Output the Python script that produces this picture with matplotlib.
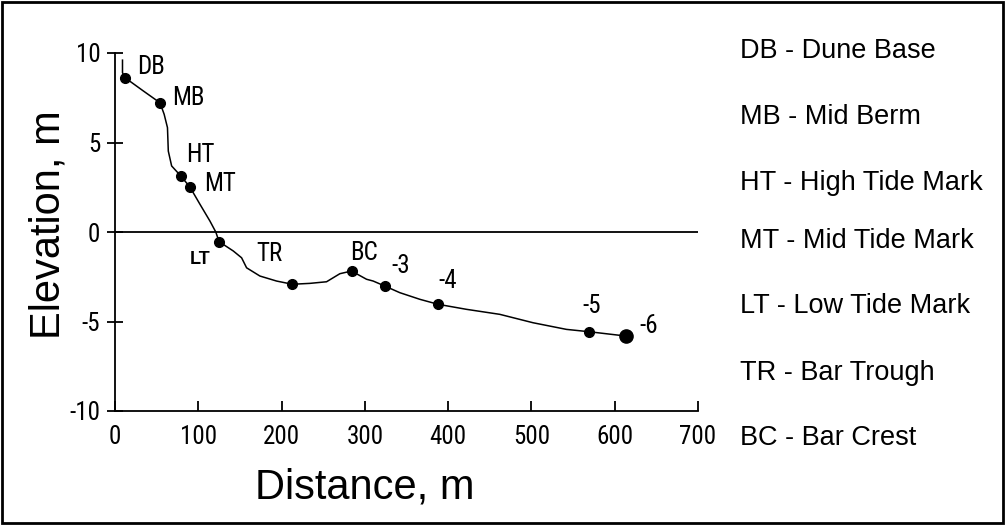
import matplotlib
matplotlib.use("Agg")
import matplotlib.pyplot as plt
from matplotlib import font_manager
from matplotlib.patches import Rectangle

# profile of the beach (distance m, elevation m)
dist = [9, 9, 12, 34, 54, 59, 63, 64, 68, 79, 90, 102, 114, 121, 125,
        142, 152, 158, 174, 194, 213, 234, 254, 270, 284, 302, 310, 324,
        342, 366, 388, 422, 462, 502, 542, 569, 613]
elev = [9.6, 8.9, 8.62, 7.88, 7.22, 6.58, 5.83, 4.52, 3.69, 3.13, 2.51, 1.55,
        0.61, 0.0, -0.54, -1.06, -1.44, -2.0, -2.46, -2.74, -2.92, -2.87,
        -2.78, -2.33, -2.18, -2.64, -2.74, -3.02, -3.39, -3.76, -4.04, -4.32,
        -4.6, -5.07, -5.44, -5.57, -5.81]

# marked stations
pt_names = ["DB", "MB", "HT", "MT", "LT", "TR", "BC", "-3", "-4", "-5", "-6"]
pt_dist = [12, 54, 79, 90, 125, 213, 284, 324, 388, 569, 613]
pt_elev = [8.62, 7.22, 3.13, 2.51, -0.54, -2.92, -2.18, -3.02, -4.04, -5.57, -5.81]
lbl_x = [26, 69, 85, 107, 90, 170, 282, 332, 388, 561, 630]
lbl_y = [8.83, 7.09, 3.91, 2.29, -1.8, -1.62, -1.58, -2.27, -3.15, -4.51, -5.63]

key_text = ["DB - Dune Base", "MB - Mid Berm", "HT - High Tide Mark",
            "MT - Mid Tide Mark", "LT - Low Tide Mark", "TR - Bar Trough",
            "BC - Bar Crest"]
key_base = [58, 124, 190, 248, 313, 380, 445]  # baseline, pixels from top

# narrow face for the small labels if one is around
names = {f.name for f in font_manager.fontManager.ttflist}
narrow, nsize = "Liberation Sans", 17
for cand, sz in [("Liberation Sans Narrow", 18), ("Roboto Condensed", 18),
                 ("DejaVu Sans Condensed", 16.5)]:
    if cand in names:
        narrow, nsize = cand, sz
        break

plt.rcParams["axes.unicode_minus"] = False
plt.rcParams["font.family"] = ["Liberation Sans", "DejaVu Sans"]

W, H = 1006, 525
fig = plt.figure(figsize=(W / 100, H / 100), dpi=100)
ax = fig.add_axes([115 / W, 1 - 411 / H, 583 / W, 358 / H])

ax.plot(dist, elev, color="black", lw=1.1)
ax.plot(pt_dist[:-1], pt_elev[:-1], "o", color="black", ms=7)
ax.plot(pt_dist[-1:], pt_elev[-1:], "o", color="black", ms=9.5)
ax.axhline(0, color="black", lw=1.3)

for n, x, y in zip(pt_names, lbl_x, lbl_y):
    if n == "LT":
        ax.text(x, y, n, fontsize=13, fontweight="bold", family="Liberation Sans",
                ha="left", va="baseline")
    else:
        ax.text(x, y, n, fontsize=nsize, family=narrow, ha="left", va="baseline")

ax.set_xlim(0, 700)
ax.set_ylim(-10, 10)
ax.set_xticks(range(0, 701, 100))
ax.set_yticks([-10, -5, 0, 5, 10])
for s in ["top", "right"]:
    ax.spines[s].set_visible(False)
for s in ["left", "bottom"]:
    ax.spines[s].set_linewidth(1.3)
ax.tick_params(axis="x", direction="in", length=7, width=1.3, pad=10)
ax.tick_params(axis="y", direction="inout", length=11, width=1.3, pad=5)
for lab in ax.get_xticklabels() + ax.get_yticklabels():
    lab.set_family(narrow)
    lab.set_fontsize(nsize)

ax.set_xlabel("Distance, m", fontsize=30, va="baseline")
ax.xaxis.set_label_coords(0.429, (411 - 498) / 358)
ax.set_ylabel("Elevation, m", fontsize=30, va="baseline")
ax.yaxis.set_label_coords((60 - 115) / 583, 0.52)

for t, b in zip(key_text, key_base):
    fig.text(740 / W, 1 - b / H, t, fontsize=19.5, ha="left", va="baseline")

fig.add_artist(Rectangle((0.002, 0.003), 0.995, 0.994, transform=fig.transFigure,
                         fill=False, lw=2, edgecolor="black"))

fig.savefig("out.png", dpi=100)
